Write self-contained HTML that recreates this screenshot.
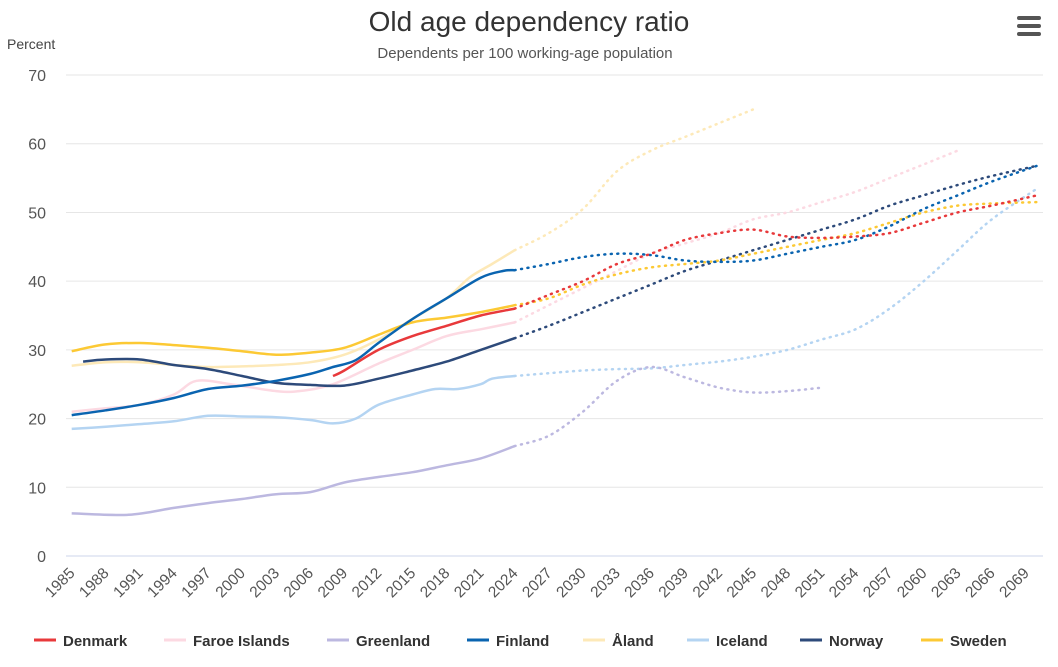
<!DOCTYPE html>
<html><head><meta charset="utf-8">
<style>
body{margin:0;background:#fff;width:1058px;height:662px;overflow:hidden;font-family:"Liberation Sans",sans-serif;}
svg text{font-family:"Liberation Sans",sans-serif;}
</style></head><body>
<svg id="c" width="1058" height="662" xmlns="http://www.w3.org/2000/svg">
<text x="529" y="31" text-anchor="middle" font-size="28" fill="#333">Old age dependency ratio</text>
<text x="525" y="58" text-anchor="middle" font-size="15" fill="#555">Dependents per 100 working-age population</text>
<text x="7" y="49" font-size="14" fill="#444">Percent</text>
<g fill="#555"><rect x="1017" y="16" width="24" height="4" rx="2"/><rect x="1017" y="24" width="24" height="4" rx="2"/><rect x="1017" y="32" width="24" height="4" rx="2"/></g>
<g id="grid"></g><g id="series"></g><g id="xl"></g>
</svg>
<script>
var svg=document.getElementById('c'),NS='http://www.w3.org/2000/svg';
function X(y){return 71.7+(y-1985)*11.36}
function Y(v){return 556-v*6.871}
function el(t,a,p,txt){var e=document.createElementNS(NS,t);for(var k in a)e.setAttribute(k,a[k]);if(txt)e.textContent=txt;(p||svg).appendChild(e);return e}
var g=document.getElementById('grid');
for(var v=0;v<=70;v+=10){el('line',{x1:66,x2:1043,y1:Y(v),y2:Y(v),stroke:v?'#e6e6e6':'#ccd6eb','stroke-width':1},g);
el('text',{x:46,y:Y(v)+6,'text-anchor':'end','font-size':16,fill:'#555'},g,String(v));}
var xl=document.getElementById('xl');
for(var yr=1985;yr<=2069;yr+=3){var x=X(yr)+4,y=574;el('text',{x:x,y:y,'text-anchor':'end','font-size':15.5,fill:'#555',transform:'rotate(-45 '+x+' '+y+')'},xl,String(yr));}
var S=[
['#fde9b8',[[1985,27.7],[1988,28.2],[1991,28.2],[1994,27.8],[1997,27.5],[2000,27.6],[2003,27.8],[2006,28.2],[2009,29.3],[2012,31.5],[2015,34.5],[2018,37.5],[2020,40.5],[2022,42.5],[2024,44.5]],[[2027,47],[2030,50.5],[2033,56],[2036,59],[2039,61],[2042,63],[2045,65]]],
['#fcd9e2',[[1985,21],[1988,21.5],[1991,22],[1994,23.5],[1996,25.5],[1999,25],[2003,24],[2005,24],[2008,25],[2012,28],[2015,30],[2018,32],[2021,33],[2024,34]],[[2027,36.5],[2030,39],[2033,41.5],[2036,44],[2039,45.5],[2042,47],[2045,49],[2048,50],[2051,51.5],[2054,53],[2057,55],[2060,57],[2063,59]]],
['#b4d4f2',[[1985,18.5],[1988,18.8],[1991,19.2],[1994,19.6],[1997,20.4],[2000,20.3],[2003,20.2],[2006,19.8],[2008,19.3],[2010,20],[2012,22],[2015,23.5],[2017,24.3],[2019,24.3],[2021,25],[2022,25.8],[2024,26.2]],[[2027,26.6],[2030,27],[2033,27.2],[2036,27.3],[2039,27.8],[2042,28.3],[2045,29],[2048,30],[2051,31.5],[2054,33],[2057,36],[2060,40],[2063,44.5],[2066,49],[2070,53.5]]],
['#bcb8e0',[[1985,6.2],[1990,6],[1994,7],[1997,7.7],[2000,8.3],[2003,9],[2006,9.3],[2009,10.7],[2012,11.5],[2015,12.2],[2018,13.2],[2021,14.2],[2024,16]],[[2027,17.5],[2030,21],[2033,25.5],[2036,27.5],[2039,26],[2042,24.5],[2045,23.8],[2048,24],[2051,24.5]]],
['#2d4a7a',[[1986,28.3],[1988,28.6],[1991,28.6],[1994,27.8],[1997,27.2],[2000,26.2],[2003,25.2],[2006,24.9],[2009,24.8],[2012,25.8],[2015,27],[2018,28.3],[2021,30],[2024,31.7]],[[2027,33.5],[2030,35.5],[2033,37.5],[2036,39.5],[2039,41.5],[2042,43],[2045,44.5],[2048,46],[2051,47.5],[2054,49],[2057,51],[2060,52.5],[2063,54],[2066,55.3],[2070,56.8]]],
['#fcc934',[[1985,29.8],[1988,30.8],[1991,31],[1994,30.7],[1997,30.3],[2000,29.8],[2003,29.3],[2006,29.6],[2009,30.3],[2012,32.2],[2015,34],[2018,34.7],[2021,35.5],[2024,36.5]],[[2027,37.5],[2030,39.5],[2033,41],[2036,42],[2039,42.5],[2042,43],[2045,44],[2048,45],[2051,46],[2054,47],[2057,48.5],[2060,50],[2063,51],[2066,51.3],[2070,51.5]]],
['#0a64b0',[[1985,20.5],[1988,21.2],[1991,22],[1994,23],[1997,24.3],[2000,24.8],[2003,25.5],[2006,26.5],[2008,27.5],[2010,28.5],[2012,31],[2015,34.5],[2018,37.5],[2021,40.5],[2023,41.5],[2024,41.6]],[[2027,42.5],[2030,43.5],[2033,44],[2036,43.8],[2039,43],[2042,42.8],[2045,43],[2048,44],[2051,45],[2054,46],[2057,48],[2060,50.5],[2063,52.5],[2066,54.5],[2070,56.8]]],
['#e8393b',[[2008,26.2],[2009,27],[2012,30],[2015,32],[2018,33.5],[2021,35],[2024,36]],[[2027,38],[2030,40],[2033,42.5],[2036,44],[2039,46],[2042,47],[2045,47.5],[2048,46.5],[2051,46.3],[2054,46.5],[2057,47],[2060,48.5],[2063,50],[2066,51],[2070,52.5]]]
];
var sg=document.getElementById('series');
function d(pts){var P=pts.map(function(p){return [X(p[0]),Y(p[1])]});var s='M'+P[0][0].toFixed(1)+' '+P[0][1].toFixed(1);
for(var i=0;i<P.length-1;i++){var p0=P[i-1]||P[i],p1=P[i],p2=P[i+1],p3=P[i+2]||p2;
var c1=[p1[0]+(p2[0]-p0[0])/6,p1[1]+(p2[1]-p0[1])/6],c2=[p2[0]-(p3[0]-p1[0])/6,p2[1]-(p3[1]-p1[1])/6];
s+='C'+c1[0].toFixed(1)+' '+c1[1].toFixed(1)+' '+c2[0].toFixed(1)+' '+c2[1].toFixed(1)+' '+p2[0].toFixed(1)+' '+p2[1].toFixed(1);}
return s}
S.forEach(function(s){
el('path',{d:d(s[1]),fill:'none',stroke:s[0],'stroke-width':2.5,'stroke-linejoin':'round'},sg);
el('path',{d:d([s[1][s[1].length-1]].concat(s[2])),fill:'none',stroke:s[0],'stroke-width':2.5,'stroke-dasharray':'1 5.5','stroke-linecap':'round'},sg);
});
var L=[['Denmark','#e8393b',34],['Faroe Islands','#fcd9e2',164],['Greenland','#bcb8e0',327],['Finland','#0a64b0',467],['Åland','#fde9b8',583],['Iceland','#b4d4f2',687],['Norway','#2d4a7a',800],['Sweden','#fcc934',921]];
L.forEach(function(l){el('line',{x1:l[2],x2:l[2]+22,y1:640,y2:640,stroke:l[1],'stroke-width':3});
el('text',{x:l[2]+29,y:646,'font-size':15,'font-weight':'bold',fill:'#333'},svg,l[0]);});
</script>
</body></html>
